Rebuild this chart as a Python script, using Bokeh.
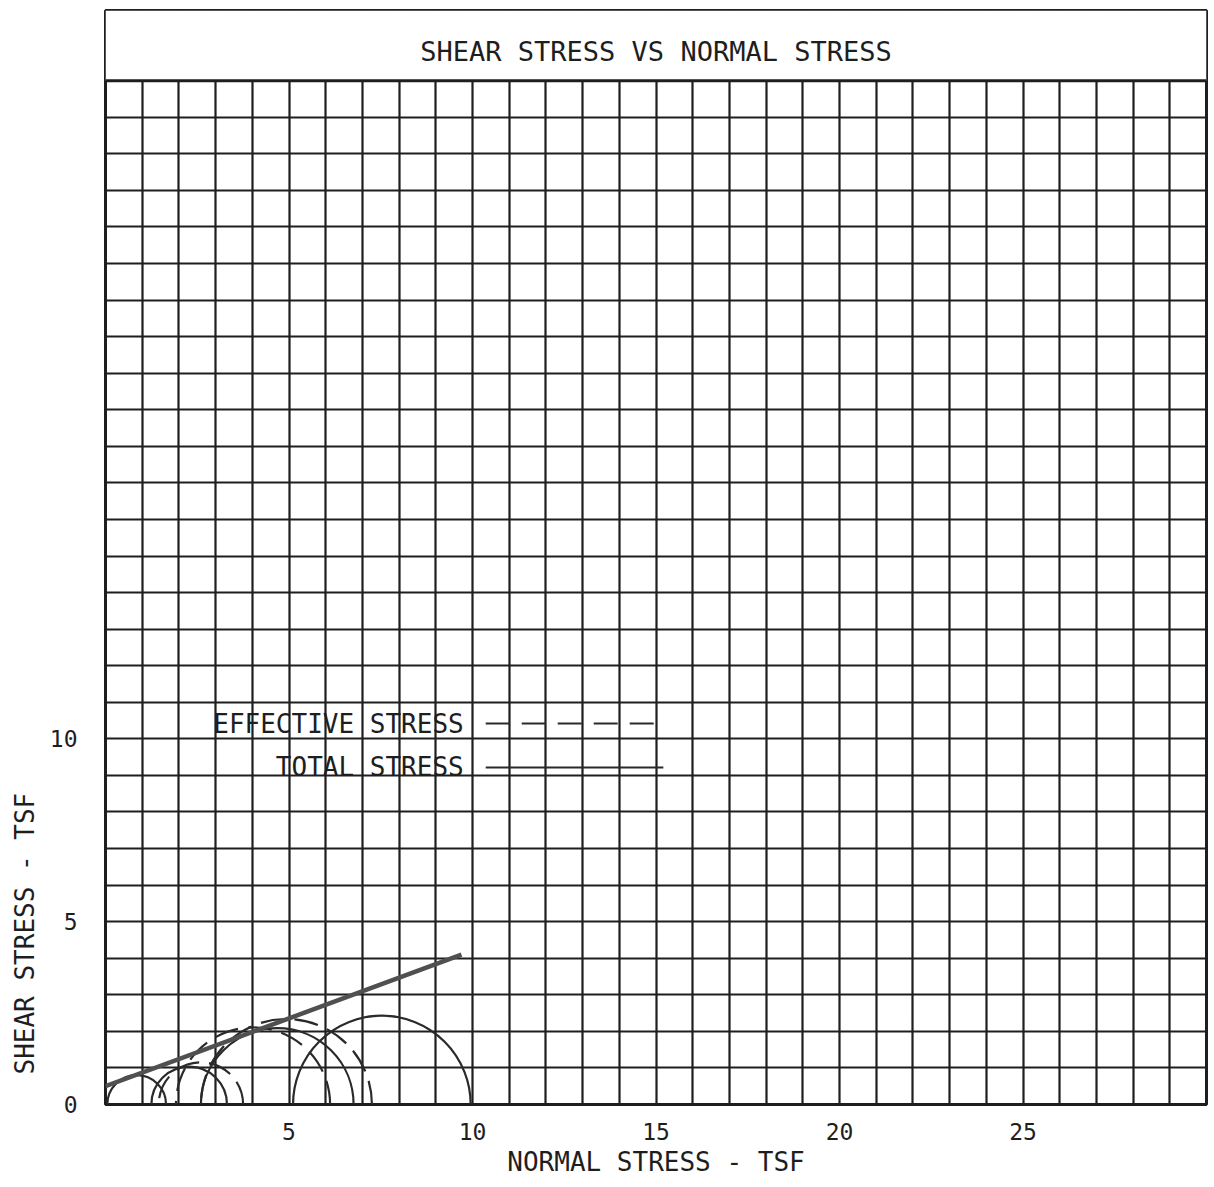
import numpy as np
from bokeh.plotting import figure
from bokeh.models import FixedTicker, BoxAnnotation, Span, Label, Title, Range1d, ColumnDataSource
from bokeh.core.properties import value
from bokeh.embed import file_html
from bokeh.resources import INLINE

# ---------------- data ----------------
x_tick_values = [5, 10, 15, 20, 25]
y_tick_values = [0, 5, 10]
grid_x_values = list(range(1, 30))
grid_y_values = list(range(1, 28))

# total stress Mohr circles (solid)
total_centers = [0.85, 2.28, 4.68, 7.53]
total_radii = [0.80, 1.03, 2.08, 2.42]
# effective stress Mohr circles (dashed)
effective_centers = [2.60, 4.02, 4.93]
effective_radii = [1.15, 2.10, 2.33]
# failure envelope (total stress)
envelope_sigma = [0.0, 9.7]
envelope_tau = [0.5, 4.1]

legend_labels = ["EFFECTIVE STRESS", "TOTAL STRESS"]
legend_dashes = ["24 12", "solid"]

title_text = "SHEAR STRESS VS NORMAL STRESS"
x_label = "NORMAL STRESS - TSF"
y_label = "SHEAR STRESS - TSF"

# ---------------- style / layout ----------------
FONT = "DejaVu Sans Mono"
INK = "#1e1e1e"
X_MAX = 30
Y_GRID_TOP = 28
Y_MAX = 29.92
TITLE_Y = 28.8
legend_text_x = 9.76
legend_line_x0, legend_line_x1 = 10.36, 15.2
legend_rows_y = [10.42, 9.22]

p = figure(width=1210, height=1179,
           x_range=Range1d(0, X_MAX), y_range=Range1d(0, Y_MAX),
           output_backend="svg", toolbar_location=None,
           min_border_left=100, min_border_right=4,
           min_border_top=10, min_border_bottom=74)

p.background_fill_color = "white"
p.border_fill_color = "white"
p.outline_line_color = INK
p.outline_line_width = 3

# grid
p.xgrid.ticker = FixedTicker(ticks=grid_x_values)
p.ygrid.ticker = FixedTicker(ticks=grid_y_values)
for g in (p.xgrid, p.ygrid):
    g.grid_line_color = INK
    g.grid_line_width = 2.2
    g.grid_line_alpha = 1.0

# axes
p.xaxis.ticker = FixedTicker(ticks=x_tick_values, minor_ticks=[])
p.yaxis.ticker = FixedTicker(ticks=y_tick_values, minor_ticks=[])
for ax in (p.xaxis, p.yaxis):
    ax.axis_line_color = None
    ax.major_tick_line_color = None
    ax.minor_tick_line_color = None
    ax.major_label_text_font = FONT
    ax.major_label_text_font_size = "23px"
    ax.major_label_text_color = INK
p.xaxis.major_label_standoff = 12
p.yaxis.major_label_standoff = 22

p.xaxis.axis_label = x_label
p.xaxis.axis_label_text_font = FONT
p.xaxis.axis_label_text_font_size = "26px"
p.xaxis.axis_label_text_font_style = "normal"
p.xaxis.axis_label_text_color = INK
p.xaxis.axis_label_standoff = 4

p.add_layout(Title(text=y_label, align="left", offset=30, standoff=14,
                   text_font=FONT, text_font_size="26px",
                   text_font_style="normal", text_color=INK), "left")

# title box on top of the grid
p.add_layout(BoxAnnotation(bottom=Y_GRID_TOP, fill_color="white", fill_alpha=1.0,
                           line_color=None))
p.add_layout(Span(location=Y_GRID_TOP, dimension="width", line_color=INK, line_width=3))
p.add_layout(Label(x=X_MAX / 2, y=TITLE_Y, text=title_text,
                   text_align="center", text_baseline="middle",
                   text_font=FONT, text_font_size="27px", text_color=INK))

# Mohr circles
n_tot = len(total_centers)
p.arc(x=total_centers, y=[0] * n_tot, radius=total_radii,
      start_angle=0, end_angle=np.pi, line_color="#2a2a2a", line_width=2.2)
n_eff = len(effective_centers)
p.arc(x=effective_centers, y=[0] * n_eff, radius=effective_radii,
      start_angle=0, end_angle=np.pi, line_color="#2a2a2a", line_width=2.2,
      line_dash="24 10")

# failure envelope
p.line(envelope_sigma, envelope_tau, line_color="#505050", line_width=4.5)

# legend (text left of the line sample)
leg_src = ColumnDataSource(dict(x=[legend_text_x] * len(legend_labels),
                                y=legend_rows_y, text=legend_labels))
p.text(x="x", y="y", text="text", source=leg_src, text_align="right",
       text_baseline="middle", text_font=value(FONT), text_font_size="26px",
       text_color=INK)
for row_y, dash in zip(legend_rows_y, legend_dashes):
    p.line([legend_line_x0, legend_line_x1], [row_y, row_y],
           line_color="#2a2a2a", line_width=2, line_dash=dash)

open("out.html", "w").write(file_html(p, INLINE))
